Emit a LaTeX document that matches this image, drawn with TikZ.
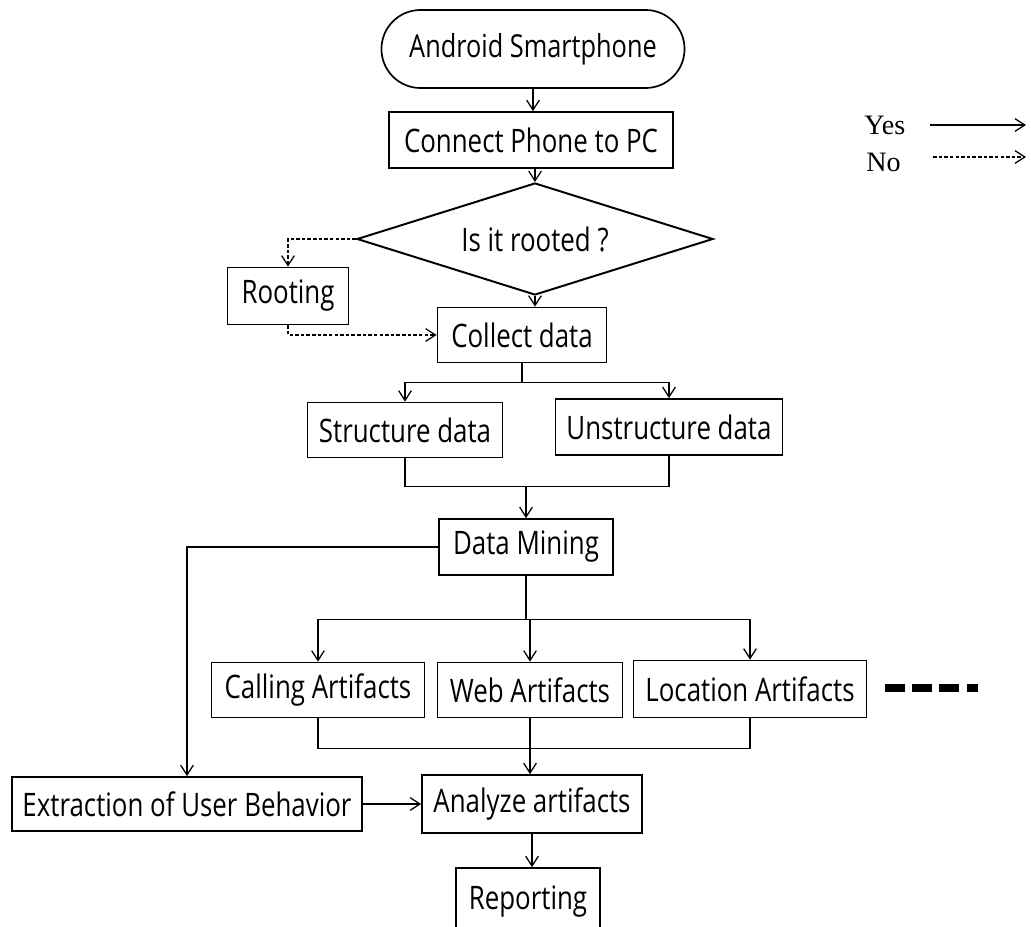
\documentclass[tikz,border=0pt]{standalone}
\usepackage{fontspec}
\setmainfont{Open Sans}[FakeStretch=0.8]
\newfontfamily\legendfont{Liberation Serif}
\usepackage{tikz}
\usetikzlibrary{calc}
\usetikzlibrary{shapes.geometric,shapes.misc}
\usetikzlibrary{arrows.meta}
\tikzset{%
  block/.style    = {draw, line width = 1.2pt, rectangle, inner sep = 0pt,
    align = center, font = \fontsize{23}{27}\selectfont},
  terminal/.style = {draw, line width = 1.2pt, rounded rectangle, inner sep = 0pt,
    font = \fontsize{22.5}{26}\selectfont},
  decision/.style = {draw, line width = 1.4pt, diamond, inner sep = 0pt, aspect = 3.2,
    font = \fontsize{23}{27}\selectfont},
  yesline/.style  = {line width = 0.9pt},
  yesarrow/.style = {line width = 0.9pt, -{Straight Barb[length=7pt, width=9pt]}},
  noarrow/.style  = {line width = 0.9pt, dash pattern = on 2.5pt off 1.5pt,
    -{Straight Barb[length=7pt, width=9pt]}},
  legend/.style   = {inner sep = 0pt, font = \legendfont\fontsize{20}{22}\selectfont}
}
\begin{document}
\begin{tikzpicture}[x=0.025cm, y=-0.025cm]
    \useasboundingbox (0,0) rectangle (1031,926);

    %start
    \node[terminal, minimum width=7.575cm, minimum height=1.95cm] (phone) at (533,49) {Android Smartphone};
    \node[block, minimum width=7.1cm, minimum height=1.4cm] (connect) at (531,140) {Connect Phone to PC};
    \draw[yesarrow] (phone.south) -- (phone.south |- connect.north);

    %rooted?
    \node[decision, minimum width=8.9cm, minimum height=2.8cm] (rooted) at (535,239) {Is it rooted ?};
    \draw[yesarrow] (connect.south -| rooted.north) -- (rooted.north);
    \node[block, minimum width=3.025cm, minimum height=1.425cm] (rooting) at (288,296) {Rooting};
    \draw[noarrow] (rooted.west) -| (rooting.north);

    %collect
    \node[block, minimum width=4.225cm, minimum height=1.375cm] (collect) at (522,335) {Collect data};
    \draw[yesarrow] (rooted.south) -- (rooted.south |- collect.north);
    \draw[noarrow] (rooting.south) |- (collect.west);

    %structure / unstructure
    \node[block, minimum width=4.875cm, minimum height=1.375cm] (structure) at (405,430) {Structure data};
    \node[block, minimum width=5.675cm, minimum height=1.4cm] (unstructure) at (669,427) {Unstructure data};
    \path (collect.south) ++(0,19) coordinate (fork1);
    \draw[yesline] (collect.south) -- (fork1);
    \draw[yesarrow] (fork1) -| (structure.north);
    \draw[yesarrow] (fork1) -| (unstructure.north);

    %mining
    \node[block, minimum width=4.35cm, minimum height=1.4cm] (mining) at (526,547) {Data Mining};
    \path (mining.north) ++(0,-32) coordinate (join1);
    \draw[yesline] (structure.south) |- (join1);
    \draw[yesline] (unstructure.south) |- (join1);
    \draw[yesarrow] (join1) -- (mining.north);

    %artifacts
    \node[block, minimum width=5.325cm, minimum height=1.375cm] (calling) at (318,690) {Calling Artifacts};
    \node[block, minimum width=4.625cm, minimum height=1.375cm] (web) at (530,690) {Web Artifacts};
    \node[block, minimum width=5.825cm, minimum height=1.425cm] (location) at (750,689) {Location Artifacts};
    \path (mining.south) ++(0,44) coordinate (fork2);
    \draw[yesline] (mining.south) -- (fork2);
    \draw[yesarrow] (fork2) -| (calling.north);
    \draw[yesarrow] (fork2) -| (web.north);
    \draw[yesarrow] (fork2) -| (location.north);
    \draw[line width=5.5pt, dash pattern=on 0.5cm off 0.18cm] (885,688) -- (978,688);

    %analyze
    \node[block, minimum width=8.75cm, minimum height=1.35cm] (extraction) at (187,804) {Extraction of User Behavior};
    \node[block, minimum width=5.5cm, minimum height=1.45cm] (analyze) at (532,804) {Analyze artifacts};
    \path (web.south) ++(0,30) coordinate (join2);
    \draw[yesline] (calling.south) |- (join2);
    \draw[yesline] (location.south) |- (join2);
    \draw[yesline] (web.south) -- (join2);
    \draw[yesarrow] (join2) -- (join2 |- analyze.north);
    \draw[yesarrow] (mining.west) -| (extraction.north);
    \draw[yesarrow] (extraction.east) -- (analyze.west);

    %reporting
    \node[block, minimum width=3.6cm, minimum height=1.7cm] (reporting) at (528,902) {Reporting};
    \draw[yesarrow] (analyze.south) -- (analyze.south |- reporting.north);

    %legend
    \node[legend, anchor=west] (yes) at (864,125) {Yes};
    \node[legend, anchor=west] (no) at (866,162) {No};
    \coordinate (yesA) at (930,125);
    \coordinate (yesB) at (1026,125);
    \coordinate (noA) at (933,157);
    \coordinate (noB) at (1026,157);
    \draw[yesarrow] (yesA) -- (yesB);
    \draw[noarrow] (noA) -- (noB);
\end{tikzpicture}
\end{document}
